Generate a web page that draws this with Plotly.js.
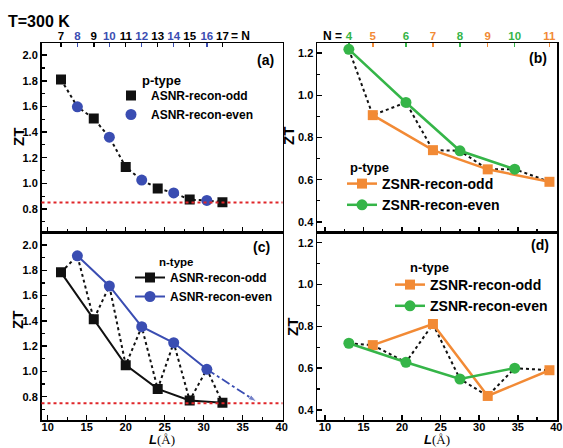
<!DOCTYPE html>
<html><head><meta charset="utf-8">
<script src="https://cdn.plot.ly/plotly-3.0.1.min.js"></script>
<style>html,body{margin:0;padding:0;background:#fff}#chart{width:563px;height:448px}</style>
</head><body><div id="chart"></div>
<script>
// ---- ASNR (armchair) : panels (a) p-type, (c) n-type ----
const asnrOddN  = [7, 9, 11, 13, 15, 17];
const asnrOddL  = [11.7, 15.9, 20.0, 24.1, 28.2, 32.4];
const asnrEvenN = [8, 10, 12, 14, 16];
const asnrEvenL = [13.8, 17.9, 22.05, 26.15, 30.4];
const asnrPOdd  = [1.81, 1.505, 1.127, 0.96, 0.873, 0.853];
const asnrPEven = [1.597, 1.36, 1.025, 0.925, 0.866];
const asnrNOdd  = [1.784, 1.412, 1.05, 0.862, 0.771, 0.752];
const asnrNEven = [1.915, 1.676, 1.354, 1.227, 1.017];
const asnrNExtrapL  = [36.8];
const asnrNExtrapZT = [0.76];
const limitP = [0.85];
const limitN = [0.748];
// ---- ZSNR (zigzag) : panels (b) p-type, (d) n-type ----
const zsnrOddN  = [5, 7, 9, 11];
const zsnrOddL  = [16.2, 24.0, 31.1, 39.1];
const zsnrEvenN = [4, 6, 8, 10];
const zsnrEvenL = [13.1, 20.5, 27.5, 34.6];
const zsnrPOdd  = [0.906, 0.74, 0.649, 0.59];
const zsnrPEven = [1.218, 0.966, 0.737, 0.65];
const zsnrNOdd  = [0.71, 0.811, 0.467, 0.59];
const zsnrNEven = [0.719, 0.628, 0.548, 0.60];

const W = 563, H = 448;
const BLACK = '#111111', BLUE = '#3a4db2', ORANGE = '#f28a35', GREEN = '#35b548', RED = '#e0262a';
const FONT = 'Liberation Sans, Arial, sans-serif';

function zigzag(oN, oL, oY, eN, eL, eY) {
  const pts = [];
  oN.forEach((n, i) => pts.push([n, oL[i], oY[i]]));
  eN.forEach((n, i) => pts.push([n, eL[i], eY[i]]));
  pts.sort((a, b) => a[0] - b[0]);
  return {x: pts.map(p => p[1]), y: pts.map(p => p[2])};
}
function dotted(z, xa, ya) {
  return {x: z.x, y: z.y, xaxis: xa, yaxis: ya, mode: 'lines', showlegend: false, hoverinfo: 'skip',
    line: {color: BLACK, width: 2, dash: 'dot'}};
}
function ghost(xs, ys, xa, ya) {
  return {x: xs, y: ys, xaxis: xa, yaxis: ya, mode: 'markers', showlegend: false, hoverinfo: 'skip',
    marker: {size: 1, opacity: 0}};
}

const traces = [];
// (a)
traces.push(dotted(zigzag(asnrOddN, asnrOddL, asnrPOdd, asnrEvenN, asnrEvenL, asnrPEven), 'x', 'y'));
traces.push({x: asnrOddL, y: asnrPOdd, xaxis: 'x', yaxis: 'y', mode: 'markers', name: 'ASNR-recon-odd', legend: 'legend',
  marker: {symbol: 'square', size: 10, color: BLACK}});
traces.push({x: asnrEvenL, y: asnrPEven, xaxis: 'x', yaxis: 'y', mode: 'markers', name: 'ASNR-recon-even', legend: 'legend',
  marker: {symbol: 'circle', size: 11, color: BLUE}});
// (c)
traces.push(dotted(zigzag(asnrOddN, asnrOddL, asnrNOdd, asnrEvenN, asnrEvenL, asnrNEven), 'x3', 'y3'));
traces.push({x: [asnrEvenL[asnrEvenL.length - 1]].concat(asnrNExtrapL), y: [asnrNEven[asnrNEven.length - 1]].concat(asnrNExtrapZT),
  xaxis: 'x3', yaxis: 'y3', mode: 'lines+markers', showlegend: false, hoverinfo: 'skip',
  line: {color: BLUE, width: 1.8, dash: 'dashdot'},
  marker: {symbol: ['circle', 'arrow'], size: [0, 9], color: BLUE, angleref: 'previous'}});
traces.push({x: asnrOddL, y: asnrNOdd, xaxis: 'x3', yaxis: 'y3', mode: 'lines+markers', name: 'ASNR-recon-odd', legend: 'legend3',
  line: {color: BLACK, width: 2}, marker: {symbol: 'square', size: 10, color: BLACK}});
traces.push({x: asnrEvenL, y: asnrNEven, xaxis: 'x3', yaxis: 'y3', mode: 'lines+markers', name: 'ASNR-recon-even', legend: 'legend3',
  line: {color: BLUE, width: 2}, marker: {symbol: 'circle', size: 11, color: BLUE}});
// (b)
traces.push(dotted(zigzag(zsnrOddN, zsnrOddL, zsnrPOdd, zsnrEvenN, zsnrEvenL, zsnrPEven), 'x2', 'y2'));
traces.push({x: zsnrOddL, y: zsnrPOdd, xaxis: 'x2', yaxis: 'y2', mode: 'lines+markers', name: 'ZSNR-recon-odd', legend: 'legend2',
  line: {color: ORANGE, width: 2.5}, marker: {symbol: 'square', size: 10, color: ORANGE}});
traces.push({x: zsnrEvenL, y: zsnrPEven, xaxis: 'x2', yaxis: 'y2', mode: 'lines+markers', name: 'ZSNR-recon-even', legend: 'legend2',
  line: {color: GREEN, width: 2.5}, marker: {symbol: 'circle', size: 11, color: GREEN}});
// (d)
traces.push(dotted(zigzag(zsnrOddN, zsnrOddL, zsnrNOdd, zsnrEvenN, zsnrEvenL, zsnrNEven), 'x4', 'y4'));
traces.push({x: zsnrOddL, y: zsnrNOdd, xaxis: 'x4', yaxis: 'y4', mode: 'lines+markers', name: 'ZSNR-recon-odd', legend: 'legend4',
  line: {color: ORANGE, width: 2.5}, marker: {symbol: 'square', size: 10, color: ORANGE}});
traces.push({x: zsnrEvenL, y: zsnrNEven, xaxis: 'x4', yaxis: 'y4', mode: 'lines+markers', name: 'ZSNR-recon-even', legend: 'legend4',
  line: {color: GREEN, width: 2.5}, marker: {symbol: 'circle', size: 11, color: GREEN}});
// invisible carriers so the top N axes are drawn
traces.push(ghost(asnrOddL, asnrPOdd, 'x5', 'y'));
traces.push(ghost(asnrEvenL, asnrPEven, 'x6', 'y'));
traces.push(ghost(zsnrOddL, zsnrPOdd, 'x7', 'y2'));
traces.push(ghost(zsnrEvenL, zsnrPEven, 'x8', 'y2'));

// geometry (pixels)
const LX = [41.5 / W, 282.5 / W], RX = [317 / W, 557 / W];
const TY = [1 - 232 / H, 1 - 43 / H], BY = [1 - 420 / H, 1 - 232 / H];
const rangeL = [9.2, 40.1], rangeR = [8.97, 40.08];

function xAxis(domain, range, anchor, labels) {
  return {domain, range, anchor, showline: true, linewidth: 1.5, linecolor: '#000', mirror: true,
    ticks: 'inside', ticklen: 5, tickwidth: 1.5, tickcolor: '#000', tick0: 0, dtick: 5,
    showticklabels: labels, tickfont: {family: FONT, size: 11, weight: 'bold', color: '#000'}, ticklabelstandoff: -4,
    showgrid: false, zeroline: false, fixedrange: true, tickangle: 0,
    minor: {ticks: 'inside', ticklen: 3, tickwidth: 1.2, tick0: 0, dtick: 2.5, tickcolor: '#000', showgrid: false}};
}
function yAxis(domain, range, anchor) {
  return {domain, range, anchor, showline: true, linewidth: 1.5, linecolor: '#000', mirror: true,
    ticks: 'inside', ticklen: 5, tickwidth: 1.5, tickcolor: '#000', tick0: 0, dtick: 0.2, tickformat: '.1f',
    tickfont: {family: FONT, size: 11, weight: 'bold', color: '#000'},
    showgrid: false, zeroline: false, fixedrange: true,
    minor: {ticks: 'inside', ticklen: 3, tickwidth: 1.2, tick0: 0, dtick: 0.1, tickcolor: '#000', showgrid: false}};
}
function topAxis(over, anchor, range, vals, labels, color) {
  return {overlaying: over, side: 'top', anchor, range, tickmode: 'array', tickvals: vals, ticktext: labels.map(String),
    ticks: 'inside', ticklen: 4, tickwidth: 1.5, tickcolor: color, tickangle: 0,
    tickfont: {family: FONT, size: 11.5, weight: 'bold', color}, showline: false, showgrid: false, zeroline: false, fixedrange: true};
}
function ann(text, xp, yp, size, o) {
  return Object.assign({text, x: xp / W, y: 1 - yp / H, xref: 'paper', yref: 'paper', showarrow: false,
    xanchor: 'center', yanchor: 'middle', font: {family: FONT, size, weight: 'bold', color: '#000'}}, o || {});
}
function legendAt(xp, yp, size) {
  return {x: xp / W, y: 1 - yp / H, xanchor: 'left', yanchor: 'top', bgcolor: 'rgba(0,0,0,0)', borderwidth: 0,
    itemwidth: 30, tracegroupgap: 0, font: {family: FONT, size, weight: 'bold', color: '#000'}};
}
function hline(val, xa, ya) {
  return {type: 'line', xref: xa + ' domain', x0: 0, x1: 1, yref: ya, y0: val, y1: val,
    line: {color: RED, width: 2, dash: 'dot'}};
}
const lTitle = '<i>L</i><span style="font-family:Liberation Serif;font-weight:normal">(Å)</span>';

const layout = {
  width: W, height: H, margin: {l: 0, r: 0, t: 0, b: 0}, paper_bgcolor: '#fff', plot_bgcolor: 'rgba(0,0,0,0)',
  font: {family: FONT, color: '#000'}, hovermode: false,
  xaxis: xAxis(LX, rangeL, 'y', false), yaxis: yAxis(TY, [0.62, 2.095], 'x'),
  xaxis2: xAxis(RX, rangeR, 'y2', false), yaxis2: yAxis(TY, [0.352, 1.248], 'x2'),
  xaxis3: xAxis(LX, rangeL, 'y3', true), yaxis3: yAxis(BY, [0.616, 2.103], 'x3'),
  xaxis4: xAxis(RX, rangeR, 'y4', true), yaxis4: yAxis(BY, [0.352, 1.251], 'x4'),
  xaxis5: topAxis('x', 'y', rangeL, asnrOddL, asnrOddN, '#000'),
  xaxis6: topAxis('x', 'y', rangeL, asnrEvenL, asnrEvenN, BLUE),
  xaxis7: topAxis('x2', 'y2', rangeR, zsnrOddL, zsnrOddN, ORANGE),
  xaxis8: topAxis('x2', 'y2', rangeR, zsnrEvenL, zsnrEvenN, GREEN),
  showlegend: true,
  legend: legendAt(111, 81, 12),
  legend2: legendAt(342, 168, 14),
  legend3: legendAt(130, 263, 12),
  legend4: legendAt(390, 269, 14),
  shapes: [hline(limitP[0], 'x', 'y'), hline(limitN[0], 'x3', 'y3')],
  annotations: [
    ann('T=300 K', 6, 21, 16, {xanchor: 'left'}),
    ann('= N', 229, 36, 12, {xanchor: 'left'}),
    ann('N =', 344, 36, 12, {xanchor: 'right'}),
    ann('(a)', 265, 60, 14), ann('(b)', 538, 58, 14), ann('(c)', 261, 247, 14), ann('(d)', 540, 245, 14),
    ann('ZT', 18, 137, 15, {textangle: -90}), ann('ZT', 17, 320, 15, {textangle: -90}),
    ann('ZT', 288, 136, 15, {textangle: -90}), ann('ZT', 292, 327, 15, {textangle: -90}),
    ann(lTitle, 162, 439.5, 13), ann(lTitle, 437, 439.5, 13),
    ann('p-type', 140, 81, 13, {xanchor: 'left'}), ann('p-type', 348, 167, 13, {xanchor: 'left'}),
    ann('n-type', 157, 262, 11.5, {xanchor: 'left'}), ann('n-type', 408, 267, 13, {xanchor: 'left'})
  ]
};
Plotly.newPlot('chart', traces, layout, {staticPlot: true, displayModeBar: false});
</script></body></html>
